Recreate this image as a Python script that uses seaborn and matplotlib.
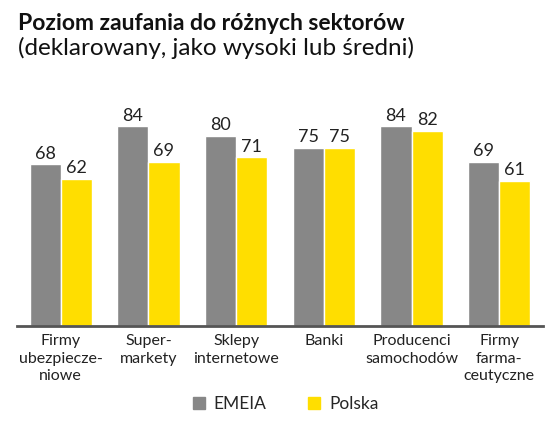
import numpy as np
import pandas as pd
import matplotlib
matplotlib.use("Agg")
import matplotlib.pyplot as plt
import seaborn as sns
from matplotlib.patches import Patch

categories = ["Firmy\nubezpiecze-\nniowe", "Super-\nmarkety", "Sklepy\ninternetowe",
              "Banki", "Producenci\nsamochodów", "Firmy\nfarma-\nceutyczne"]
emeia = [68, 84, 80, 75, 84, 69]
polska = [62, 69, 71, 75, 82, 61]
series = ["EMEIA", "Polska"]
colors = ["#878787", "#FFDE00"]

sns.set_theme(style="white")
plt.rcParams['font.family'] = ['Lato', 'DejaVu Sans']

df = pd.DataFrame({
    'cat': categories * 2,
    'val': emeia + polska,
    'series': ["EMEIA"] * len(categories) + ["Polska"] * len(categories),
})

fig = plt.figure(figsize=(5.6, 4.23), dpi=100)
ax = fig.add_axes([0.030, 0.229, 0.940, 0.562])
sns.barplot(data=df, x='cat', y='val', hue='series', hue_order=series,
            palette=colors, width=0.71, gap=0, saturation=1, ax=ax, legend=False)

for c in ax.containers:
    ax.bar_label(c, fmt='%d', padding=2, fontsize=13, color='#222222')

ax.set_ylim(0, 100)
ax.set_xlim(-0.5, 5.5)
ax.set_xlabel("")
ax.set_ylabel("")
ax.set_yticks([])
ax.tick_params(axis='x', length=0, pad=6, labelsize=11.5, colors='#222222')
for lbl in ax.get_xticklabels():
    lbl.set_linespacing(1.3)
for s in ['top', 'right', 'left']:
    ax.spines[s].set_visible(False)
ax.spines['bottom'].set_color('#555555')
ax.spines['bottom'].set_linewidth(2)

fig.text(0.032, 0.945, "Poziom zaufania do różnych sektorów", fontsize=16.5,
         fontweight='bold', color='#111111', va='center')
fig.text(0.032, 0.886, "(deklarowany, jako wysoki lub średni)", fontsize=17.5,
         color='#111111', va='center')

handles = [Patch(color=colors[0], label=series[0]), Patch(color=colors[1], label=series[1])]
fig.legend(handles=handles, loc='center', bbox_to_anchor=(0.51, 0.045), ncol=2,
           frameon=False, fontsize=12.5, handlelength=0.7, handleheight=0.7,
           handletextpad=0.5, columnspacing=2.4)

fig.savefig("out.png", dpi=100)
